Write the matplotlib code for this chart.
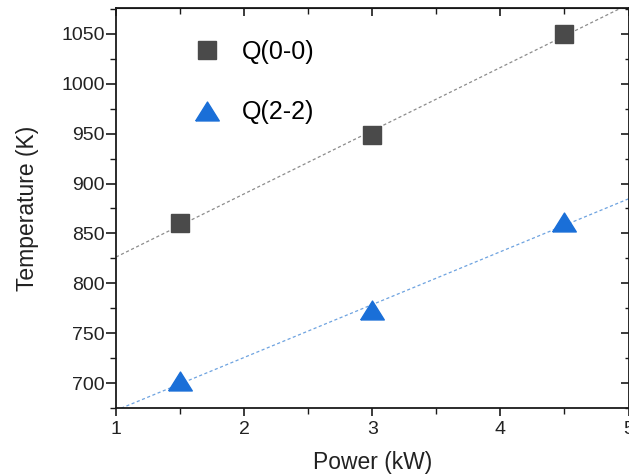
import numpy as np
import matplotlib
matplotlib.use("Agg")
import matplotlib.pyplot as plt
from matplotlib.ticker import MultipleLocator

plt.rcParams['font.family'] = ['Liberation Sans', 'DejaVu Sans']

power = [1.5, 3.0, 4.5]
temp_q00 = [860, 949, 1050]
temp_q22 = [702, 773, 861]
labels = ["Q(0-0)", "Q(2-2)"]

x_left, x_right = 116, 628.5
y_top, y_bot = 8, 408
fig = plt.figure(figsize=(6.29, 4.74), dpi=100)
ax = fig.add_axes([x_left/629, 1-y_bot/474, (x_right-x_left)/629, (y_bot-y_top)/474])

xfit = np.linspace(1, 5, 200)
for y, col in [(temp_q00, '#8c8c8c'), (temp_q22, '#6ea3e0')]:
    k, b = np.polyfit(power, y, 1)
    ax.plot(xfit, k*xfit + b, linestyle=(0, (2.5, 2)), color=col, lw=0.9, zorder=1)

tri = [(-1, -0.8), (1, -0.8), (0, 0.8), (-1, -0.8)]
ax.plot(power, temp_q00, linestyle='none', marker='s', ms=12.5, color='#4a4a4a',
        label=labels[0], zorder=3)
ax.plot(power, temp_q22, linestyle='none', marker=tri, ms=17, color='#1a6fd8',
        label=labels[1], zorder=3)

ax.set_xlim(1, 5)
ax.set_ylim(675, 1076)
ax.xaxis.set_major_locator(MultipleLocator(1))
ax.xaxis.set_minor_locator(MultipleLocator(0.5))
ax.yaxis.set_major_locator(MultipleLocator(50))
ax.yaxis.set_minor_locator(MultipleLocator(25))

txtcol = '#222222'
ax.tick_params(axis='both', which='major', labelsize=14, labelcolor=txtcol, color='#1a1a1a', width=1.2)
ax.tick_params(axis='both', which='minor', width=1.0, color='#1a1a1a')
ax.tick_params(axis='x', which='major', direction='out', length=6, pad=3)
ax.tick_params(axis='x', which='minor', direction='out', length=4)
ax.tick_params(axis='y', which='major', direction='out', length=7, pad=1)
ax.tick_params(axis='y', which='minor', direction='out', length=4)

for s in ax.spines.values():
    s.set_linewidth(1.3)
    s.set_color('#1a1a1a')

axt = ax.secondary_xaxis('top')
axt.xaxis.set_major_locator(MultipleLocator(1))
axt.xaxis.set_minor_locator(MultipleLocator(0.5))
axt.tick_params(which='major', direction='in', length=6, width=1.2, color='#1a1a1a')
axt.tick_params(which='minor', direction='in', length=4, width=1.0, color='#1a1a1a')
axt.set_xticklabels([])
axr = ax.secondary_yaxis('right')
axr.yaxis.set_major_locator(MultipleLocator(50))
axr.yaxis.set_minor_locator(MultipleLocator(25))
axr.tick_params(which='major', direction='in', length=6, width=1.2, color='#1a1a1a')
axr.tick_params(which='minor', direction='in', length=3, width=1.0, color='#1a1a1a')
axr.set_yticklabels([])

ax.set_xlabel("Power (kW)", fontsize=16.5, color=txtcol, labelpad=10)
ax.set_ylabel("Temperature (K)", fontsize=16.5, color=txtcol, labelpad=16)

ax.legend(loc='upper left', bbox_to_anchor=(0.1215, 0.945), frameon=False,
          fontsize=18, labelspacing=1.45, handletextpad=0.65, numpoints=1,
          handlelength=1.5, borderaxespad=0)

fig.savefig("out.png", dpi=100)
